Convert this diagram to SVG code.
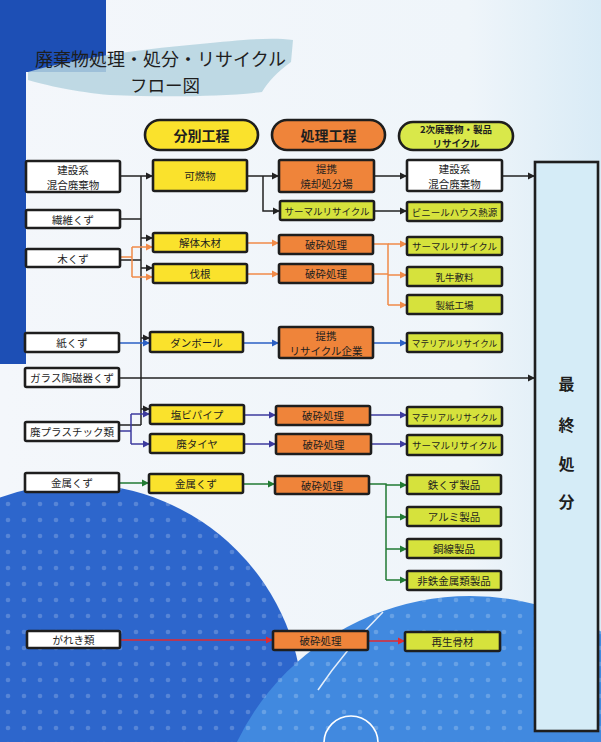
<svg xmlns="http://www.w3.org/2000/svg" width="601" height="742" viewBox="0 0 601 742">
<defs>
<linearGradient id="bg" x1="0" y1="0" x2="1" y2="0">
<stop offset="0" stop-color="#f4f7fb"/>
<stop offset="0.78" stop-color="#eff5fa"/>
<stop offset="1" stop-color="#d9ebf6"/>
</linearGradient>
<pattern id="dots" width="16" height="16" patternUnits="userSpaceOnUse">
<circle cx="8" cy="8" r="2.3" fill="#ffffff" fill-opacity="0.2"/>
</pattern>
<marker id="aK" markerUnits="userSpaceOnUse" markerWidth="8" markerHeight="8" refX="7" refY="4" orient="auto"><path d="M0,0.5 L7,4 L0,7.5 Z" fill="#222"/></marker>
<marker id="aO" markerUnits="userSpaceOnUse" markerWidth="8" markerHeight="8" refX="7" refY="4" orient="auto"><path d="M0,0.5 L7,4 L0,7.5 Z" fill="#f08a48"/></marker>
<marker id="aB" markerUnits="userSpaceOnUse" markerWidth="8" markerHeight="8" refX="7" refY="4" orient="auto"><path d="M0,0.5 L7,4 L0,7.5 Z" fill="#2a5fc4"/></marker>
<marker id="aN" markerUnits="userSpaceOnUse" markerWidth="8" markerHeight="8" refX="7" refY="4" orient="auto"><path d="M0,0.5 L7,4 L0,7.5 Z" fill="#3c3a9e"/></marker>
<marker id="aG" markerUnits="userSpaceOnUse" markerWidth="8" markerHeight="8" refX="7" refY="4" orient="auto"><path d="M0,0.5 L7,4 L0,7.5 Z" fill="#217a33"/></marker>
<marker id="aR" markerUnits="userSpaceOnUse" markerWidth="8" markerHeight="8" refX="7" refY="4" orient="auto"><path d="M0,0.5 L7,4 L0,7.5 Z" fill="#e22a30"/></marker>
</defs>
<style>
text{font-family:"Noto Sans CJK JP","Noto Sans",sans-serif;fill:#1e1e1e;dominant-baseline:central;text-anchor:middle}
.b{stroke:#1e1e1e;stroke-width:2.6}
.w{fill:#ffffff}
.y{fill:#fae22c}
.o{fill:#ef843a}
.g{fill:#d6e23c}
.t{font-size:10.5px}
.s{font-size:9.5px}
.xs{font-size:8.6px}
.h{font-size:14px;font-weight:bold}
.hs{font-size:9.5px;font-weight:bold}
.c{fill:none;stroke-width:1.5}
.k{stroke:#222}
.or{stroke:#f08a48}
.bl{stroke:#2a5fc4}
.nv{stroke:#3c3a9e}
.gr{stroke:#217a33}
.rd{stroke:#e22a30}
</style>

<!-- background -->
<rect x="0" y="0" width="601" height="742" fill="url(#bg)"/>
<path d="M0,0 H106 V72 H26 V364 H0 Z" fill="#1d4fb5"/>
<circle cx="77" cy="710" r="226" fill="#2d66cc"/>
<circle cx="77" cy="710" r="226" fill="url(#dots)"/>
<circle cx="470" cy="855" r="259" fill="#4189df"/>
<circle cx="470" cy="855" r="259" fill="url(#dots)"/>
<path d="M383,612 Q345,650 318,690" fill="none" stroke="#ffffff" stroke-width="1.6" stroke-opacity="0.85"/>
<circle cx="351" cy="743" r="27" fill="none" stroke="#ffffff" stroke-width="1.6"/>
<path d="M28,72 C70,60 130,50 200,44 C240,40 270,37 293,40 L291,62 C277,72 268,82 262,92 C220,97 160,97 110,95 C75,92 45,85 28,80 Z" fill="#b5d4df" fill-opacity="0.85"/>

<!-- title -->
<g id="title">
<text x="35" y="58" style="font-size:18px;text-anchor:start">廃棄物処理・処分・リサイクル</text>
<text x="130" y="84" style="font-size:17.5px;text-anchor:start">フロー図</text>
</g>

<!-- headers -->
<g id="hdr1"><rect x="145" y="120" width="113" height="30" rx="15" class="b y" stroke-width="1.5"/><text x="201.5" y="135" class="h">分別工程</text></g>
<g id="hdr2"><rect x="272" y="120" width="113" height="30" rx="15" class="b o" stroke-width="1.5"/><text x="328.5" y="135" class="h">処理工程</text></g>
<g id="hdr3"><rect x="399" y="122" width="114" height="28" rx="14" class="b" fill="#d9e84a" stroke-width="1.5"/><text x="456" y="129" class="hs">2次廃棄物・製品</text><text x="456" y="143" class="hs">リサイクル</text></g>

<!-- connectors -->
<g id="connectors">
<path class="c k" d="M120,176 H153" marker-end="url(#aK)"/>
<path class="c k" d="M141,176 V425"/>
<path class="c k" d="M120,219 H141"/>
<path class="c k" d="M120,260 H141"/>
<path class="c k" d="M141,238 H153" marker-end="url(#aK)"/>
<path class="c k" d="M141,268 H153" marker-end="url(#aK)"/>
<path class="c k" d="M141,338 H150" marker-end="url(#aK)"/>
<path class="c k" d="M141,409 H150" marker-end="url(#aK)"/>
<path class="c k" d="M120,425 H141"/>
<path class="c or" d="M120,257 H132 M132,247 V277"/>
<path class="c or" d="M132,247 H153" marker-end="url(#aO)"/>
<path class="c or" d="M132,277 H153" marker-end="url(#aO)"/>
<path class="c bl" d="M119,343 H150" marker-end="url(#aB)"/>
<path class="c nv" d="M120,431 H131 M131,414 V444"/>
<path class="c nv" d="M131,414 H150" marker-end="url(#aN)"/>
<path class="c nv" d="M131,444 H150" marker-end="url(#aN)"/>
<path class="c k" d="M247,176 H279" marker-end="url(#aK)"/>
<path class="c k" d="M263,176 V211 H280" marker-end="url(#aK)"/>
<path class="c k" d="M374,176 H407" marker-end="url(#aK)"/>
<path class="c k" d="M502,176 H535" marker-end="url(#aK)"/>
<path class="c k" d="M374,211 H407" marker-end="url(#aK)"/>
<path class="c or" d="M247,243 H279" marker-end="url(#aO)"/>
<path class="c or" d="M247,274 H279" marker-end="url(#aO)"/>
<path class="c or" d="M373,244 H388 V305 M373,274 H388"/>
<path class="c or" d="M388,244 H407" marker-end="url(#aO)"/>
<path class="c or" d="M388,275 H407" marker-end="url(#aO)"/>
<path class="c or" d="M388,305 H407" marker-end="url(#aO)"/>
<path class="c bl" d="M243,343 H279" marker-end="url(#aB)"/>
<path class="c bl" d="M373,343 H407" marker-end="url(#aB)"/>
<path class="c k" d="M119,378 H535" marker-end="url(#aK)"/>
<path class="c nv" d="M244,415 H276" marker-end="url(#aN)"/>
<path class="c nv" d="M370,415 H407" marker-end="url(#aN)"/>
<path class="c nv" d="M244,444 H276" marker-end="url(#aN)"/>
<path class="c nv" d="M371,444 H407" marker-end="url(#aN)"/>
<path class="c gr" d="M119,483 H149" marker-end="url(#aG)"/>
<path class="c gr" d="M243,484 H275" marker-end="url(#aG)"/>
<path class="c gr" d="M369,484 H386 V580"/>
<path class="c gr" d="M386,485 H407" marker-end="url(#aG)"/>
<path class="c gr" d="M386,517 H407" marker-end="url(#aG)"/>
<path class="c gr" d="M386,549 H407" marker-end="url(#aG)"/>
<path class="c gr" d="M386,580 H407" marker-end="url(#aG)"/>
<path class="c rd" d="M120,640 H273" marker-end="url(#aR)"/>
<path class="c rd" d="M368,641 H405" marker-end="url(#aR)"/>
</g>

<!-- left column -->
<g id="L1"><rect x="26" y="161" width="94" height="31" rx="1.5" class="b w"/><text x="73" y="169" class="t">建設系</text><text x="73" y="184" class="t">混合廃棄物</text></g>
<g id="L2"><rect x="26" y="210" width="94" height="18" rx="1.5" class="b w"/><text x="73" y="219" class="t">繊維くず</text></g>
<g id="L3"><rect x="26" y="249" width="94" height="18" rx="1.5" class="b w"/><text x="73" y="258" class="t">木くず</text></g>
<g id="L4"><rect x="25" y="333" width="94" height="19" rx="1.5" class="b w"/><text x="72" y="342.5" class="t">紙くず</text></g>
<g id="L5"><rect x="25" y="368" width="94" height="19" rx="1.5" class="b w"/><text x="72" y="377.5" class="t">ガラス陶磁器くず</text></g>
<g id="L6"><rect x="25" y="422" width="94" height="19" rx="1.5" class="b w"/><text x="72" y="431.5" class="t">廃プラスチック類</text></g>
<g id="L7"><rect x="25" y="473" width="94" height="19" rx="1.5" class="b w"/><text x="72" y="482.5" class="t">金属くず</text></g>
<g id="L8"><rect x="27" y="631" width="93" height="17" rx="1.5" class="b w"/><text x="73.5" y="639.5" class="t">がれき類</text></g>

<!-- sorting column -->
<g id="S1"><rect x="153" y="160" width="94" height="31" rx="1.5" class="b y"/><text x="200" y="175.5" class="t">可燃物</text></g>
<g id="S2"><rect x="153" y="233" width="94" height="19" rx="1.5" class="b y"/><text x="200" y="242.5" class="t">解体木材</text></g>
<g id="S3"><rect x="153" y="264" width="94" height="19" rx="1.5" class="b y"/><text x="200" y="273.5" class="t">伐根</text></g>
<g id="S4"><rect x="150" y="332" width="93" height="20" rx="1.5" class="b y"/><text x="196.5" y="342" class="t">ダンボール</text></g>
<g id="S5"><rect x="150" y="405" width="94" height="19" rx="1.5" class="b y"/><text x="197" y="414.5" class="t">塩ビパイプ</text></g>
<g id="S6"><rect x="150" y="434" width="94" height="19" rx="1.5" class="b y"/><text x="197" y="443.5" class="t">廃タイヤ</text></g>
<g id="S7"><rect x="149" y="474" width="94" height="19" rx="1.5" class="b y"/><text x="196" y="483.5" class="t">金属くず</text></g>

<!-- processing column -->
<g id="P1"><rect x="279" y="160" width="95" height="32" rx="1.5" class="b o"/><text x="326.5" y="168" class="t">提携</text><text x="326.5" y="183.5" class="t">焼却処分場</text></g>
<g id="P2"><rect x="280" y="201" width="94" height="19" rx="1.5" class="b g"/><text x="327" y="210.5" class="s">サーマルリサイクル</text></g>
<g id="P3"><rect x="279" y="235" width="94" height="19" rx="1.5" class="b o"/><text x="326" y="244.5" class="t">破砕処理</text></g>
<g id="P4"><rect x="279" y="264" width="94" height="19" rx="1.5" class="b o"/><text x="326" y="273.5" class="t">破砕処理</text></g>
<g id="P5"><rect x="279" y="327" width="94" height="31" rx="1.5" class="b o"/><text x="326" y="335.5" class="t">提携</text><text x="326" y="350" class="t">リサイクル企業</text></g>
<g id="P6"><rect x="276" y="406" width="94" height="19" rx="1.5" class="b o"/><text x="323" y="415.5" class="t">破砕処理</text></g>
<g id="P7"><rect x="276" y="434" width="95" height="20" rx="1.5" class="b o"/><text x="323.5" y="444" class="t">破砕処理</text></g>
<g id="P8"><rect x="275" y="476" width="94" height="18" rx="1.5" class="b o"/><text x="322" y="485" class="t">破砕処理</text></g>
<g id="P9"><rect x="273" y="631" width="95" height="19" rx="1.5" class="b o"/><text x="320.5" y="640.5" class="t">破砕処理</text></g>

<!-- recycling column -->
<g id="R1"><rect x="407" y="160" width="95" height="31" rx="1.5" class="b w"/><text x="454.5" y="168" class="t">建設系</text><text x="454.5" y="183" class="t">混合廃棄物</text></g>
<g id="R2"><rect x="407" y="202" width="95" height="19" rx="1.5" class="b g"/><text x="454.5" y="211.5" class="s">ビニールハウス熱源</text></g>
<g id="R3"><rect x="407" y="237" width="95" height="18" rx="1.5" class="b g"/><text x="454.5" y="246" class="s">サーマルリサイクル</text></g>
<g id="R4"><rect x="407" y="267" width="95" height="19" rx="1.5" class="b g"/><text x="454.5" y="276.5" class="s">乳牛敷料</text></g>
<g id="R5"><rect x="407" y="295" width="95" height="19" rx="1.5" class="b g"/><text x="454.5" y="304.5" class="s">製紙工場</text></g>
<g id="R6"><rect x="407" y="333" width="95" height="19" rx="1.5" class="b g"/><text x="454.5" y="342.5" class="xs">マテリアルリサイクル</text></g>
<g id="R7"><rect x="407" y="407" width="95" height="19" rx="1.5" class="b g"/><text x="454.5" y="416.5" class="xs">マテリアルリサイクル</text></g>
<g id="R8"><rect x="407" y="435" width="95" height="20" rx="1.5" class="b g"/><text x="454.5" y="445" class="s">サーマルリサイクル</text></g>
<g id="R9"><rect x="407" y="475" width="94" height="19" rx="1.5" class="b g"/><text x="454" y="484.5" class="t">鉄くず製品</text></g>
<g id="R10"><rect x="407" y="507" width="94" height="19" rx="1.5" class="b g"/><text x="454" y="516.5" class="t">アルミ製品</text></g>
<g id="R11"><rect x="407" y="539" width="94" height="19" rx="1.5" class="b g"/><text x="454" y="548.5" class="t">銅線製品</text></g>
<g id="R12"><rect x="407" y="571" width="94" height="19" rx="1.5" class="b g"/><text x="454" y="580.5" class="t">非鉄金属類製品</text></g>
<g id="R13"><rect x="405" y="632" width="95" height="19" rx="1.5" class="b g"/><text x="452.5" y="641.5" class="t">再生骨材</text></g>

<!-- final disposal -->
<g id="final"><rect x="535" y="162" width="63" height="569" class="b" fill="#d5ecf7"/>
<text x="566.5" y="383" style="font-size:16px;font-weight:bold">最</text>
<text x="566.5" y="424" style="font-size:16px;font-weight:bold">終</text>
<text x="566.5" y="463" style="font-size:16px;font-weight:bold">処</text>
<text x="566.5" y="501" style="font-size:16px;font-weight:bold">分</text>
</g>
</svg>
